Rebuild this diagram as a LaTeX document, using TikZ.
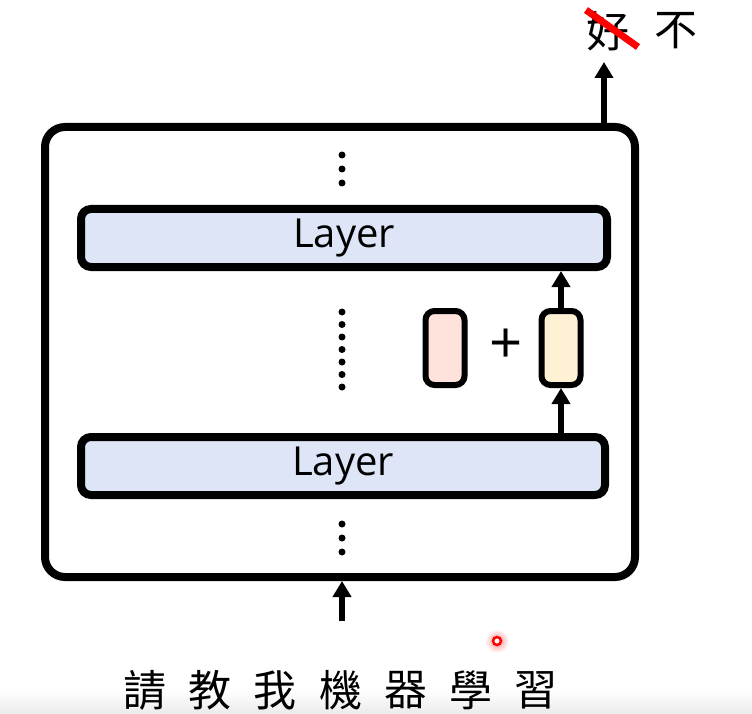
\documentclass[tikz,border=0pt]{standalone}
\usepackage{fontspec}
\setmainfont{Open Sans}
\newfontfamily\cjk{Noto Sans CJK TC}
\usetikzlibrary{arrows.meta}
\definecolor{layerblue}{HTML}{DDE5F7}
\definecolor{pinkfill}{HTML}{FDE3DC}
\definecolor{yellowfill}{HTML}{FFF2D4}
\tikzset{
  outerbox/.style={draw=black, line width=8pt, rounded corners=20pt},
  layerbox/.style={draw=black, line width=8pt, rounded corners=10pt, fill=layerblue, font=\fontsize{40}{46}\selectfont},
  vecbox/.style={draw=black, line width=6pt, rounded corners=9pt, minimum width=39pt, minimum height=74pt, inner sep=0pt},
  arr/.style={line width=5.5pt, -{Triangle[length=16pt,width=18pt]}},
  dot/.style={circle, fill=black, inner sep=0pt, minimum size=7pt},
  cjktext/.style={font=\cjk\fontsize{43}{46}\selectfont, inner sep=0pt}
}
\begin{document}
\begin{tikzpicture}[x=1pt,y=-1pt]
\useasboundingbox (0,0) rectangle (752,714);
\fill[white] (0,0) rectangle (752,714);
\shade[top color=white, bottom color=black!8] (0,690) rectangle (752,714);
% outer box
\node[outerbox, minimum width=590pt, minimum height=450pt, inner sep=0pt] (outer) at (340,352) {};
% layers
\node[layerbox, minimum width=526pt, minimum height=58pt, inner sep=0pt] (L2) at (344,238) {Layer};
\node[layerbox, minimum width=524pt, minimum height=58pt, inner sep=0pt] (L1) at (343,466) {Layer};
% vectors
\node[vecbox, fill=pinkfill] (pv) at (445,348) {};
\node[vecbox, fill=yellowfill] (yv) at (561,348) {};
\node[font=\fontsize{58}{60}\selectfont\addfontfeature{Weight=300}, inner sep=0pt] (plus) at (506,346) {+};
% dots
\foreach \y [count=\i] in {155,169,183} \node[dot] (dt\i) at (342,\y) {};
\foreach \y [count=\i] in {312,324.5,337,349.5,362,374.5,387} \node[dot] (dm\i) at (342,\y) {};
\foreach \y [count=\i] in {524,538,552} \node[dot] (db\i) at (342,\y) {};
% arrows
\draw[arr] (L1.north -| yv.south) -- (yv.south);
\draw[arr] (yv.north) -- (L2.south -| yv.north);
\coordinate (outtop) at (604,126);
\coordinate (outend) at (604,62);
\draw[arr] (outtop) -- (outend);
\coordinate (inbot) at (342,621);
\coordinate (intop) at (342,581);
\draw[arr] (inbot) -- (intop);
% output text
\node[cjktext] (hao) at (608,31) {好};
\node[cjktext] (bu) at (676,31) {不};
\coordinate (s1) at (586,10);
\coordinate (s2) at (638,47);
\draw[red, line width=7pt] (s1) -- (s2);
% input text
\foreach \c [count=\i] in {請,教,我,機,器,學,習}
  \node[cjktext] (w\i) at ({145+65.2*(\i-1)},690) {\c};
% laser pointer dot
\shade[inner color=red!45, outer color=white] (497,641) circle (12pt);
\node[circle, draw=red, line width=2.5pt, fill=white, inner sep=0pt, minimum size=8pt] (laser) at (497,641) {};
\end{tikzpicture}
\end{document}
